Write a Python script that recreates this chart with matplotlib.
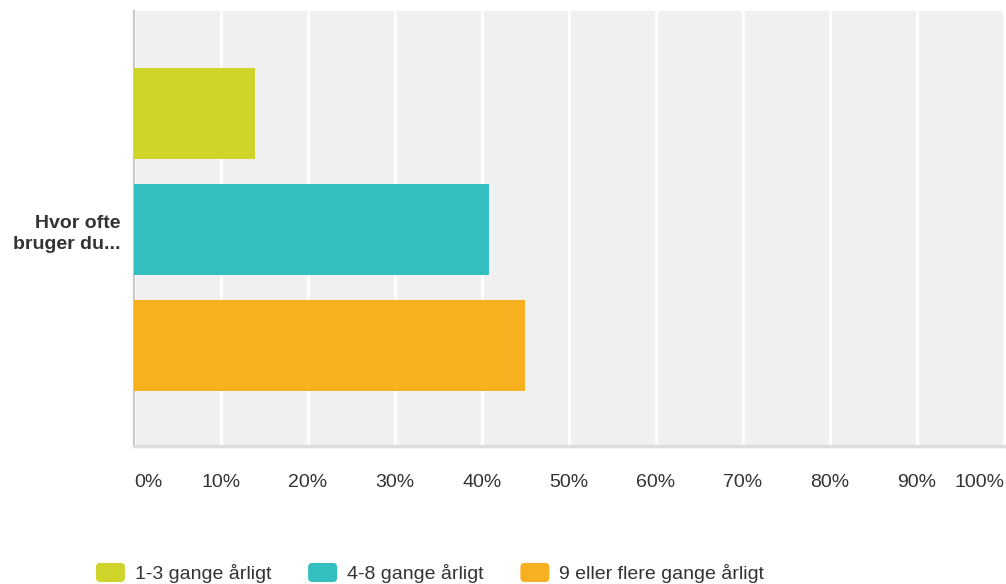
import matplotlib
matplotlib.use("Agg")
import matplotlib.pyplot as plt
from matplotlib.patches import Patch, FancyBboxPatch
from matplotlib.legend_handler import HandlerPatch

# data
question = "Hvor ofte\nbruger du..."
answers = ["1-3 gange årligt", "4-8 gange årligt", "9 eller flere gange årligt"]
shares = [13.9, 40.8, 44.9]  # percent
colors = ["#CFD42A", "#33BEBF", "#F7B020"]
ticks = [0, 10, 20, 30, 40, 50, 60, 70, 80, 90, 100]

plt.rcParams['font.family'] = ['Liberation Sans', 'DejaVu Sans']
text_col = "#333333"


class RoundHandler(HandlerPatch):
    def create_artists(self, legend, orig_handle, xdescent, ydescent,
                       width, height, fontsize, trans):
        p = FancyBboxPatch((-xdescent, -ydescent), width, height,
                           boxstyle="round,pad=0,rounding_size=3",
                           fc=orig_handle.get_facecolor(), ec='none',
                           transform=trans)
        return [p]


fig = plt.figure(figsize=(10.06, 5.84), dpi=100)
ax = fig.add_axes([134 / 1006, 138 / 584, 870 / 1006, 435 / 584])
ax.set_facecolor("#F0F0F0")

ypos = list(range(len(shares)))
ax.barh(ypos, shares, height=0.784, color=colors, zorder=3)

ax.set_xlim(0, 100)
ax.set_ylim(2.866, -0.884)
ax.set_xticks(ticks)
ax.set_xticklabels([f"{t}%" for t in ticks], fontsize=14, color=text_col)
labels = ax.get_xticklabels()
labels[0].set_ha('left')
labels[-1].set_ha('right')
ax.tick_params(axis='x', length=0, pad=20)
ax.grid(axis='x', color='white', linewidth=2, zorder=1)

ax.set_yticks([1])
ax.set_yticklabels([question], fontsize=14, fontweight='bold', color=text_col,
                   linespacing=1.35)
ax.tick_params(axis='y', length=0, pad=10)

for side in ['top', 'right']:
    ax.spines[side].set_visible(False)
ax.spines['left'].set_color("#C8C8C8")
ax.spines['left'].set_linewidth(1.5)
ax.spines['bottom'].set_color("#DDDDDD")
ax.spines['bottom'].set_linewidth(2.5)

handles = [Patch(facecolor=c) for c in colors]
fig.legend(handles, answers, handler_map={Patch: RoundHandler()},
           loc='center left', bbox_to_anchor=(96 / 1006, 11 / 584),
           ncol=3, frameon=False, fontsize=14, borderpad=0, borderaxespad=0,
           handlelength=1.49, handleheight=1.13, handletextpad=0.5,
           columnspacing=1.9, labelcolor=text_col)

fig.savefig("out.png", dpi=100)
